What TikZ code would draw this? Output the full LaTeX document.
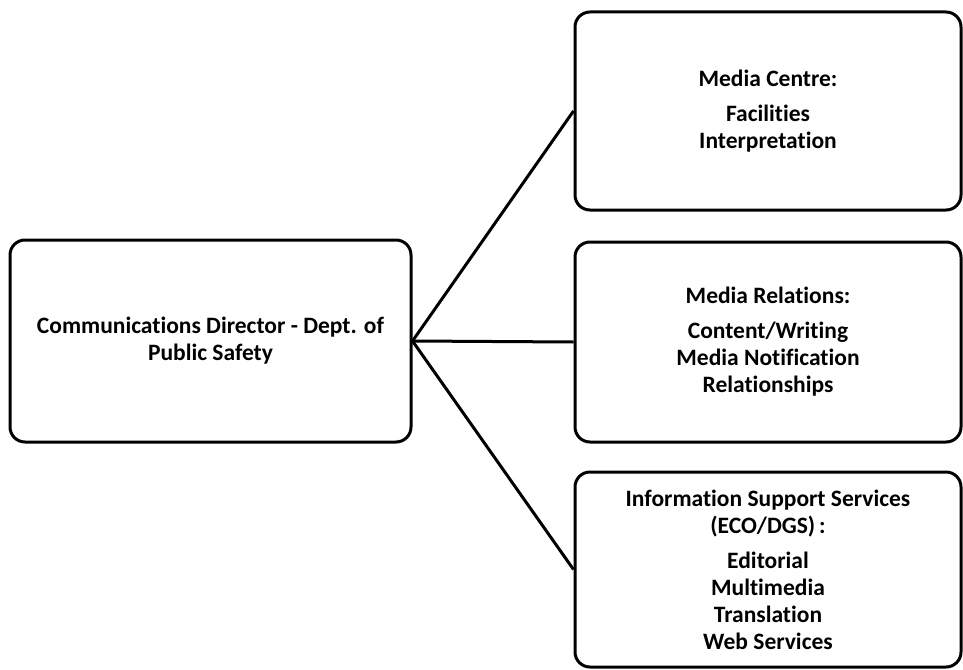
\documentclass[tikz,border=0pt]{standalone}
\usepackage{fontspec}
\setmainfont{Carlito}[Ligatures=CommonOff]
\begin{document}
\begin{tikzpicture}[x=1pt,y=-1pt,
  box/.style={draw=black, line width=3pt, rounded corners=15pt, align=center,
    font=\fontsize{23.5}{27}\selectfont\bfseries, inner sep=0pt},
  link/.style={line width=3pt}]
\useasboundingbox (0,0) rectangle (963,669);
\node[box, minimum width=401pt, minimum height=202pt] (dir) at (210.5,341)
  {Communications Director -\ Dept. of\\Public Safety};
\node[box, minimum width=386pt, minimum height=198pt] (mc) at (768,111)
  {Media Centre:\\[8pt]Facilities\\Interpretation};
\node[box, minimum width=386pt, minimum height=200pt] (mr) at (768,342)
  {Media Relations:\\[8pt]Content/Writing\\Media Notification\\Relationships};
\node[box, minimum width=386pt, minimum height=195pt] (is) at (768,569.5)
  {Information Support Services\\(ECO/DGS)\,:\\[8pt]Editorial\\Multimedia\\Translation\\Web Services};
\draw[link] (dir.east) -- (mc.west);
\draw[link] (dir.east) -- (mr.west);
\draw[link] (dir.east) -- (is.west);
\end{tikzpicture}
\end{document}
